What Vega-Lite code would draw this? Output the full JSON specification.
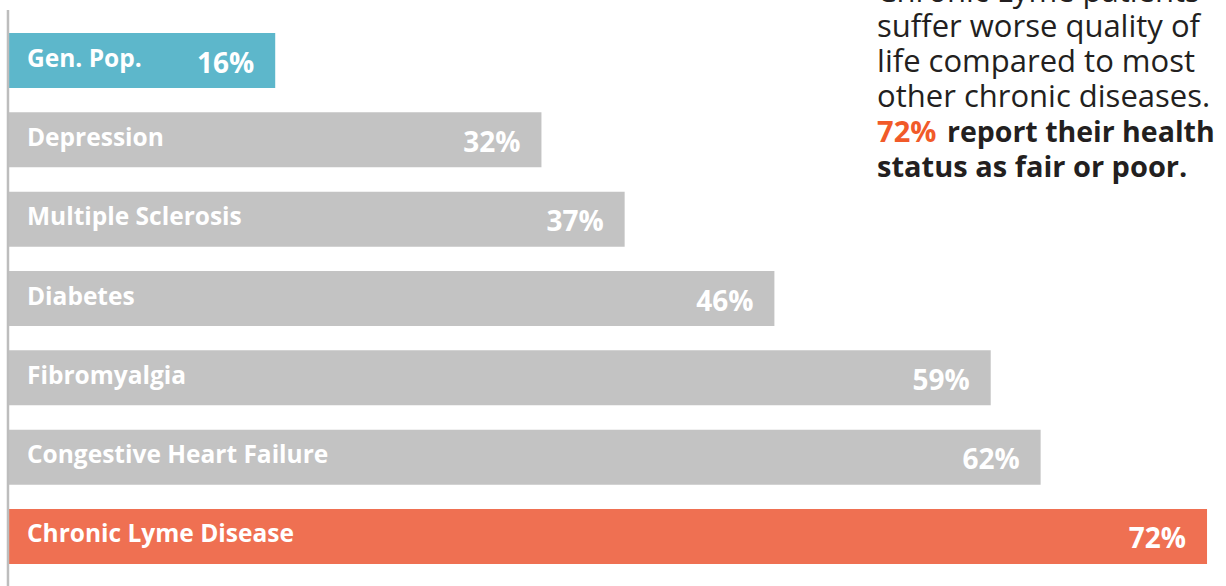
{
  "$schema": "https://vega.github.io/schema/vega-lite/v6.json",
  "width": 1226,
  "height": 586,
  "autosize": {"type": "none"},
  "padding": 0,
  "background": "white",
  "config": {"view": {"stroke": null}},
  "datasets": {
    "bars": [
      {"category": "Gen. Pop.", "value": 16, "label": "16%", "group": "gen"},
      {"category": "Depression", "value": 32, "label": "32%", "group": "other"},
      {"category": "Multiple Sclerosis", "value": 37, "label": "37%", "group": "other"},
      {"category": "Diabetes", "value": 46, "label": "46%", "group": "other"},
      {"category": "Fibromyalgia", "value": 59, "label": "59%", "group": "other"},
      {"category": "Congestive Heart Failure", "value": 62, "label": "62%", "group": "other"},
      {"category": "Chronic Lyme Disease", "value": 72, "label": "72%", "group": "lyme"}
    ],
    "note": [
      {"line": 1, "text": "Chronic Lyme patients", "weight": "normal", "part": "start"},
      {"line": 2, "text": "suffer worse quality of", "weight": "normal", "part": "start"},
      {"line": 3, "text": "life compared to most", "weight": "normal", "part": "start"},
      {"line": 4, "text": "other chronic diseases.", "weight": "normal", "part": "start"},
      {"line": 5, "text": "72%", "weight": "accent", "part": "start"},
      {"line": 5, "text": "report their health", "weight": "bold", "part": "rest"},
      {"line": 6, "text": "status as fair or poor.", "weight": "bold", "part": "start"}
    ]
  },
  "layer": [
    {
      "data": {"name": "bars"},
      "encoding": {
        "y": {
          "field": "category",
          "type": "nominal",
          "sort": null,
          "axis": null,
          "scale": {"paddingInner": 0.307, "paddingOuter": 0.347, "align": 0.6}
        }
      },
      "layer": [
        {
          "mark": {"type": "bar", "cornerRadius": 0},
          "encoding": {
            "x": {"field": "value", "type": "quantitative", "axis": null, "scale": {"domain": [-0.54, 73.14], "nice": false, "zero": false}},
            "x2": {"datum": 0},
            "color": {
              "field": "group",
              "type": "nominal",
              "legend": null,
              "scale": {"domain": ["gen", "other", "lyme"], "range": ["#5DB7CB", "#C3C3C3", "#EF7052"]}
            }
          }
        },
        {
          "mark": {"type": "text", "align": "left", "baseline": "alphabetic", "dx": 18, "dy": 6, "font": "Open Sans", "fontWeight": "bold", "fontSize": 24.5, "color": "white"},
          "encoding": {
            "x": {"datum": 0, "type": "quantitative", "scale": {"domain": [-0.54, 73.14], "nice": false, "zero": false}},
            "text": {"field": "category"}
          }
        },
        {
          "mark": {"type": "text", "align": "right", "baseline": "alphabetic", "dx": -21, "dy": 12, "font": "Open Sans", "fontWeight": "bold", "fontSize": 28, "color": "white"},
          "encoding": {
            "x": {"field": "value", "type": "quantitative", "scale": {"domain": [-0.54, 73.14], "nice": false, "zero": false}},
            "text": {"field": "label"}
          }
        }
      ]
    },
    {
      "data": {"name": "note"},
      "encoding": {
        "y": {"field": "line", "type": "quantitative", "axis": null, "scale": {"domain": [0.943, 17.686], "reverse": true, "nice": false, "zero": false}}
      },
      "layer": [
        {
          "transform": [{"filter": "datum.line == 1"}],
          "mark": {"type": "rule", "color": "#BDBDBD", "strokeWidth": 2.5},
          "encoding": {
            "x": {"datum": -0.06, "type": "quantitative", "scale": {"domain": [-0.54, 73.14], "nice": false, "zero": false}},
            "y": {"datum": 1.229, "type": "quantitative"},
            "y2": {"datum": 17.686}
          }
        },
        {
          "transform": [{"filter": "datum.weight == 'normal'"}],
          "mark": {"type": "text", "align": "left", "baseline": "alphabetic", "font": "Open Sans", "fontSize": 31, "color": "#231F20"},
          "encoding": {
            "x": {"datum": 52.17, "type": "quantitative", "scale": {"domain": [-0.54, 73.14], "nice": false, "zero": false}},
            "text": {"field": "text"}
          }
        },
        {
          "transform": [{"filter": "datum.weight == 'accent'"}],
          "mark": {"type": "text", "align": "left", "baseline": "alphabetic", "font": "Open Sans", "fontWeight": "bold", "fontSize": 29, "color": "#F15A29"},
          "encoding": {
            "x": {"datum": 52.17, "type": "quantitative", "scale": {"domain": [-0.54, 73.14], "nice": false, "zero": false}},
            "text": {"field": "text"}
          }
        },
        {
          "transform": [{"filter": "datum.weight == 'bold' && datum.part == 'start'"}],
          "mark": {"type": "text", "align": "left", "baseline": "alphabetic", "font": "Open Sans", "fontWeight": "bold", "fontSize": 29, "color": "#231F20"},
          "encoding": {
            "x": {"datum": 52.17, "type": "quantitative", "scale": {"domain": [-0.54, 73.14], "nice": false, "zero": false}},
            "text": {"field": "text"}
          }
        },
        {
          "transform": [{"filter": "datum.weight == 'bold' && datum.part == 'rest'"}],
          "mark": {"type": "text", "align": "left", "baseline": "alphabetic", "font": "Open Sans", "fontWeight": "bold", "fontSize": 28.5, "color": "#231F20"},
          "encoding": {
            "x": {"datum": 56.37, "type": "quantitative", "scale": {"domain": [-0.54, 73.14], "nice": false, "zero": false}},
            "text": {"field": "text"}
          }
        }
      ]
    }
  ],
  "resolve": {"scale": {"y": "independent"}}
}
